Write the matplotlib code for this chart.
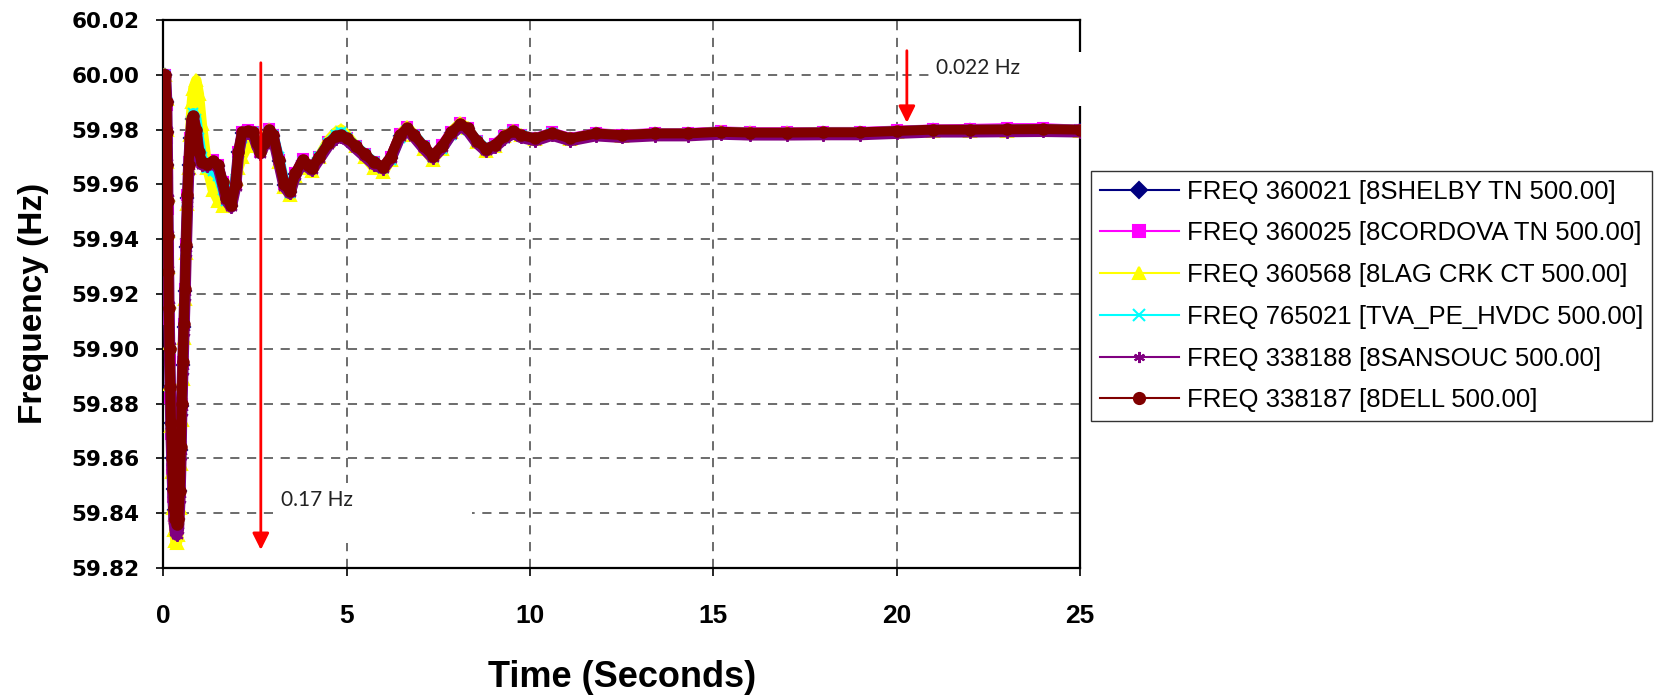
import matplotlib
matplotlib.use("Agg")
import matplotlib.pyplot as plt
from matplotlib.lines import Line2D
from matplotlib.patches import Rectangle
from matplotlib import font_manager as fm

# ---------------- data ----------------
time_s = [0.00, 0.06, 0.09, 0.10, 0.11, 0.12, 0.13, 0.14, 0.15, 0.17, 0.19, 0.21, 0.24, 0.27, 0.30,
          0.33, 0.37, 0.41, 0.45, 0.48, 0.50, 0.53, 0.56, 0.59, 0.62, 0.66, 0.69, 0.73, 0.78,
          0.82, 0.90, 0.97, 1.05, 1.20, 1.35, 1.50, 1.62, 1.72, 1.85,
          1.97, 2.05, 2.15, 2.30, 2.45, 2.55, 2.65, 2.75, 2.88, 3.00,
          3.15, 3.30, 3.45, 3.60, 3.80, 3.95, 4.05, 4.25, 4.50, 4.70,
          4.85, 5.00, 5.25, 5.50, 5.75, 6.00, 6.20, 6.45, 6.65, 6.85,
          7.10, 7.35, 7.60, 7.85, 8.10, 8.30, 8.55, 8.80, 9.05, 9.30,
          9.55, 9.75,
          10.15, 10.60, 11.10, 11.80, 12.50, 13.40, 14.30, 15.20, 16.00, 17.00,
          18.00, 19.00, 20.00, 21.00, 22.00, 23.00, 24.00, 25.00]

freq_shelby = [60.000, 60.000, 59.990, 59.979, 59.967, 59.954, 59.941, 59.928, 59.915, 59.900, 59.886, 59.873,
               59.860, 59.849, 59.841, 59.837, 59.836, 59.838, 59.848, 59.863, 59.879, 59.894, 59.908, 59.921,
               59.937, 59.955, 59.967, 59.977, 59.984,
               59.9847, 59.9797, 59.9717, 59.9677, 59.9672, 59.9682, 59.9667, 59.9607, 59.9547, 59.9522,
               59.9597, 59.9717, 59.9787, 59.9792, 59.9787, 59.9747, 59.9717, 59.9747, 59.9797, 59.9777,
               59.9687, 59.9597, 59.9572, 59.9637, 59.9687, 59.9667, 59.9657, 59.9697, 59.9747, 59.9772,
               59.9777, 59.9767, 59.9737, 59.9707, 59.9677, 59.9662, 59.9697, 59.9777, 59.9802, 59.9777,
               59.9737, 59.9702, 59.9737, 59.9787, 59.9817, 59.9802, 59.9757, 59.9727, 59.9742, 59.9772,
               59.9792, 59.9777,
               59.9765, 59.9785, 59.9765, 59.9783, 59.9777, 59.9783, 59.9783, 59.9789, 59.9786, 59.9786,
               59.9787, 59.9787, 59.9792, 59.9797, 59.9797, 59.9798, 59.9799, 59.9797]

freq_cordova = [60.000, 60.000, 59.989, 59.977, 59.964, 59.951, 59.937, 59.924, 59.911, 59.896, 59.882, 59.869,
                59.856, 59.846, 59.839, 59.836, 59.835, 59.837, 59.848, 59.864, 59.880, 59.895, 59.909, 59.922,
                59.938, 59.956, 59.968, 59.977, 59.984,
                59.9853, 59.9800, 59.9720, 59.9680, 59.9675, 59.9688, 59.9670, 59.9610, 59.9550, 59.9525,
                59.9600, 59.9720, 59.9793, 59.9798, 59.9790, 59.9750, 59.9720, 59.9753, 59.9803, 59.9780,
                59.9690, 59.9600, 59.9575, 59.9640, 59.9693, 59.9670, 59.9660, 59.9700, 59.9753, 59.9778,
                59.9783, 59.9770, 59.9740, 59.9710, 59.9680, 59.9665, 59.9700, 59.9783, 59.9808, 59.9780,
                59.9740, 59.9705, 59.9743, 59.9793, 59.9823, 59.9805, 59.9760, 59.9730, 59.9748, 59.9778,
                59.9798, 59.9780,
                59.9770, 59.9790, 59.9770, 59.9788, 59.9782, 59.9788, 59.9788, 59.9794, 59.9791, 59.9791,
                59.9792, 59.9792, 59.9797, 59.9801, 59.9803, 59.9806, 59.9806, 59.9800]

freq_lagcrk = [60.000, 60.000, 59.991, 59.980, 59.968, 59.956, 59.943, 59.930, 59.917, 59.902, 59.887, 59.872,
               59.855, 59.842, 59.834, 59.830, 59.829, 59.832, 59.842, 59.858, 59.874, 59.889, 59.904, 59.918,
               59.935, 59.953, 59.966, 59.978, 59.990,
               59.995, 59.998, 59.993, 59.982, 59.966, 59.958, 59.954, 59.952, 59.953, 59.957,
               59.962, 59.966, 59.970, 59.974, 59.976, 59.975, 59.974, 59.976, 59.980, 59.977,
               59.968, 59.959, 59.956, 59.963, 59.968, 59.966, 59.965, 59.970, 59.976, 59.979,
               59.980, 59.978, 59.974, 59.970, 59.966, 59.9645, 59.969, 59.978, 59.981, 59.978,
               59.973, 59.969, 59.973, 59.979, 59.9825, 59.9805, 59.9755, 59.9722, 59.974, 59.9775,
               59.9795, 59.978,
               59.9765, 59.9785, 59.9765, 59.9784, 59.9778, 59.9784, 59.9784, 59.9790, 59.9787, 59.9787,
               59.9788, 59.9788, 59.9792, 59.9796, 59.9795, 59.9796, 59.9797, 59.9796]

freq_tva = [60.000, 60.000, 59.990, 59.979, 59.967, 59.954, 59.941, 59.928, 59.915, 59.900, 59.886, 59.873,
            59.859, 59.848, 59.840, 59.836, 59.835, 59.837, 59.846, 59.862, 59.878, 59.893, 59.907, 59.920,
            59.936, 59.954, 59.966, 59.976, 59.983,
            59.986, 59.984, 59.977, 59.970, 59.966, 59.965, 59.963, 59.958, 59.954, 59.954,
            59.962, 59.971, 59.977, 59.979, 59.979, 59.976, 59.973, 59.975, 59.979, 59.978,
            59.970, 59.961, 59.957, 59.963, 59.968, 59.967, 59.966, 59.970, 59.975, 59.978,
            59.979, 59.977, 59.974, 59.971, 59.968, 59.966, 59.969, 59.977, 59.980, 59.978,
            59.974, 59.970, 59.973, 59.978, 59.981, 59.980, 59.976, 59.973, 59.974, 59.977,
            59.979, 59.978,
            59.9766, 59.9786, 59.9766, 59.9784, 59.9778, 59.9784, 59.9784, 59.9790, 59.9787, 59.9787,
            59.9788, 59.9788, 59.9793, 59.9798, 59.9798, 59.9799, 59.9800, 59.9798]

freq_sansouc = [60.000, 60.000, 59.990, 59.980, 59.968, 59.955, 59.942, 59.929, 59.916, 59.901, 59.886, 59.872,
                59.857, 59.845, 59.837, 59.833, 59.832, 59.834, 59.845, 59.861, 59.877, 59.892, 59.906, 59.919,
                59.935, 59.953, 59.965, 59.975, 59.983,
                59.9842, 59.9792, 59.9712, 59.9672, 59.9667, 59.9677, 59.9662, 59.9602, 59.9542, 59.9517,
                59.9592, 59.9712, 59.9782, 59.9787, 59.9782, 59.9742, 59.9712, 59.9742, 59.9792, 59.9772,
                59.9682, 59.9592, 59.9567, 59.9632, 59.9682, 59.9662, 59.9652, 59.9692, 59.9742, 59.9767,
                59.9772, 59.9762, 59.9732, 59.9702, 59.9672, 59.9657, 59.9692, 59.9772, 59.9797, 59.9772,
                59.9732, 59.9697, 59.9732, 59.9782, 59.9812, 59.9797, 59.9752, 59.9722, 59.9737, 59.9767,
                59.9787, 59.9772,
                59.9760, 59.9780, 59.9760, 59.9778, 59.9772, 59.9778, 59.9778, 59.9784, 59.9781, 59.9781,
                59.9782, 59.9782, 59.9787, 59.9792, 59.9792, 59.9793, 59.9794, 59.9792]

freq_dell = [60.000, 60.000, 59.990, 59.979, 59.967, 59.954, 59.941, 59.928, 59.915, 59.900, 59.886, 59.873,
             59.860, 59.849, 59.842, 59.838, 59.836, 59.838, 59.848, 59.864, 59.880, 59.895, 59.909, 59.922,
             59.938, 59.956, 59.967, 59.977, 59.984,
             59.985, 59.980, 59.972, 59.968, 59.9675, 59.9685, 59.967, 59.961, 59.955, 59.9525,
             59.960, 59.972, 59.979, 59.9795, 59.979, 59.975, 59.972, 59.975, 59.980, 59.978,
             59.969, 59.960, 59.9575, 59.964, 59.969, 59.967, 59.966, 59.970, 59.975, 59.9775,
             59.978, 59.977, 59.974, 59.971, 59.968, 59.9665, 59.970, 59.978, 59.9805, 59.978,
             59.974, 59.9705, 59.974, 59.979, 59.982, 59.9805, 59.976, 59.973, 59.9745, 59.9775,
             59.9795, 59.978,
             59.9768, 59.9788, 59.9768, 59.9786, 59.9780, 59.9786, 59.9786, 59.9792, 59.9789, 59.9789,
             59.9790, 59.9790, 59.9795, 59.9800, 59.9800, 59.9801, 59.9802, 59.9800]

series_labels = ["FREQ 360021 [8SHELBY TN 500.00]",
                 "FREQ 360025 [8CORDOVA TN 500.00]",
                 "FREQ 360568 [8LAG CRK CT 500.00]",
                 "FREQ 765021 [TVA_PE_HVDC 500.00]",
                 "FREQ 338188 [8SANSOUC 500.00]",
                 "FREQ 338187 [8DELL 500.00]"]
series_values = [freq_shelby, freq_cordova, freq_lagcrk, freq_tva, freq_sansouc, freq_dell]

x_ticks = [0, 5, 10, 15, 20, 25]
y_ticks = [59.82, 59.84, 59.86, 59.88, 59.90, 59.92, 59.94, 59.96, 59.98, 60.00, 60.02]
y_tick_labels = ["59.82", "59.84", "59.86", "59.88", "59.90", "59.92", "59.94", "59.96", "59.98", "60.00", "60.02"]

# ---------------- styles ----------------
colors = ["#000080", "#FF00FF", "#FFFF00", "#00FFFF", "#800080", "#800000"]
markers = ["D", "s", "^", "x", (6, 2, 0), "o"]
marker_sizes = [6.5, 6.5, 8, 7.5, 9, 7.5]
band_widths = [7.0, 7.0, 7.5, 7.5, 8.3, 7.2]

available = {f.name for f in fm.fontManager.ttflist}
narrow = "Liberation Sans Narrow" if "Liberation Sans Narrow" in available else "Liberation Sans"
note_font = "Lato" if "Lato" in available else "DejaVu Sans"

fig = plt.figure(figsize=(16.73, 6.97), dpi=100)
ax = fig.add_axes([0.0976, 0.1851, 0.5479, 0.7862])

for vals, c, m, ms, bw in zip(series_values, colors, markers, marker_sizes, band_widths):
    ax.plot(time_s, vals, color=c, lw=bw, solid_capstyle="round", solid_joinstyle="round",
            marker=m, markersize=ms, markerfacecolor=c, markeredgecolor=c, markeredgewidth=1.5,
            zorder=3)

ax.set_xlim(0, 25)
ax.set_ylim(59.82, 60.02)
ax.set_xticks(x_ticks)
ax.set_yticks(y_ticks)
ax.set_yticklabels(y_tick_labels)

ax.set_axisbelow(True)
ax.grid(True, color="#444444", linestyle=(0, (6, 5)), linewidth=1.1)

for sp in ax.spines.values():
    sp.set_linewidth(1.6)
    sp.set_color("black")

ax.tick_params(axis="y", direction="out", length=5, width=1.2, pad=12)
ax.tick_params(axis="x", direction="out", length=6, width=1.2, pad=20)
for lab in ax.get_yticklabels():
    lab.set_fontfamily("DejaVu Sans")
    lab.set_fontweight("bold")
    lab.set_fontsize(15.5)
for lab in ax.get_xticklabels():
    lab.set_fontfamily(narrow)
    lab.set_fontweight("bold")
    lab.set_fontsize(19)

ax.set_xlabel("Time (Seconds)", fontfamily=narrow, fontweight="bold", fontsize=26)
ax.xaxis.set_label_coords(0.5, -0.2007)
ax.xaxis.label.set_verticalalignment("center")
ax.set_ylabel("Frequency (Hz)", fontfamily="Liberation Sans", fontweight="bold", fontsize=24)
ax.yaxis.set_label_coords(-0.1421, 0.482)
ax.yaxis.label.set_verticalalignment("center")

# white boxes behind the annotation texts (hide grid / frame like the original)
ax.add_patch(Rectangle((3.13, 59.829), 5.29, 0.022, facecolor="white", edgecolor="none",
                       zorder=1.5, clip_on=False))
ax.add_patch(Rectangle((21.04, 59.9887), 4.3, 0.0197, facecolor="white", edgecolor="none",
                       zorder=2.6, clip_on=False))

ax.text(3.22, 59.8448, "0.17 Hz", fontfamily=note_font, fontsize=15, ha="left", va="center",
        color="#222222", zorder=4)
ax.text(21.08, 60.0024, "0.022 Hz", fontfamily=note_font, fontsize=15, ha="left", va="center",
        color="#222222", zorder=4, clip_on=False)

arrow_style = dict(arrowstyle="-|>,head_length=1.0,head_width=0.5", color="#FF0000", lw=2.0,
                   mutation_scale=10, shrinkA=0, shrinkB=0)
ax.annotate("", xy=(2.66, 59.8266), xytext=(2.66, 60.0044), arrowprops=arrow_style, zorder=5)
ax.annotate("", xy=(20.28, 59.9825), xytext=(20.28, 60.0088), arrowprops=arrow_style, zorder=5)

handles = [Line2D([0], [0], color=c, lw=1.5, marker=m, markersize=8, markerfacecolor=c,
                  markeredgecolor=c, markeredgewidth=1.5)
           for c, m in zip(colors, markers)]
leg = fig.legend(handles, series_labels, loc="center", bbox_to_anchor=(0.8198, 0.5753),
                 bbox_transform=fig.transFigure, frameon=True, fancybox=False, shadow=False,
                 prop={"family": "Liberation Sans", "size": 18.5}, handlelength=3.1,
                 handletextpad=0.3, borderpad=0.35, labelspacing=0.69, borderaxespad=0)
leg.get_frame().set_edgecolor("black")
leg.get_frame().set_linewidth(1.0)

fig.savefig("out.png", dpi=100)
